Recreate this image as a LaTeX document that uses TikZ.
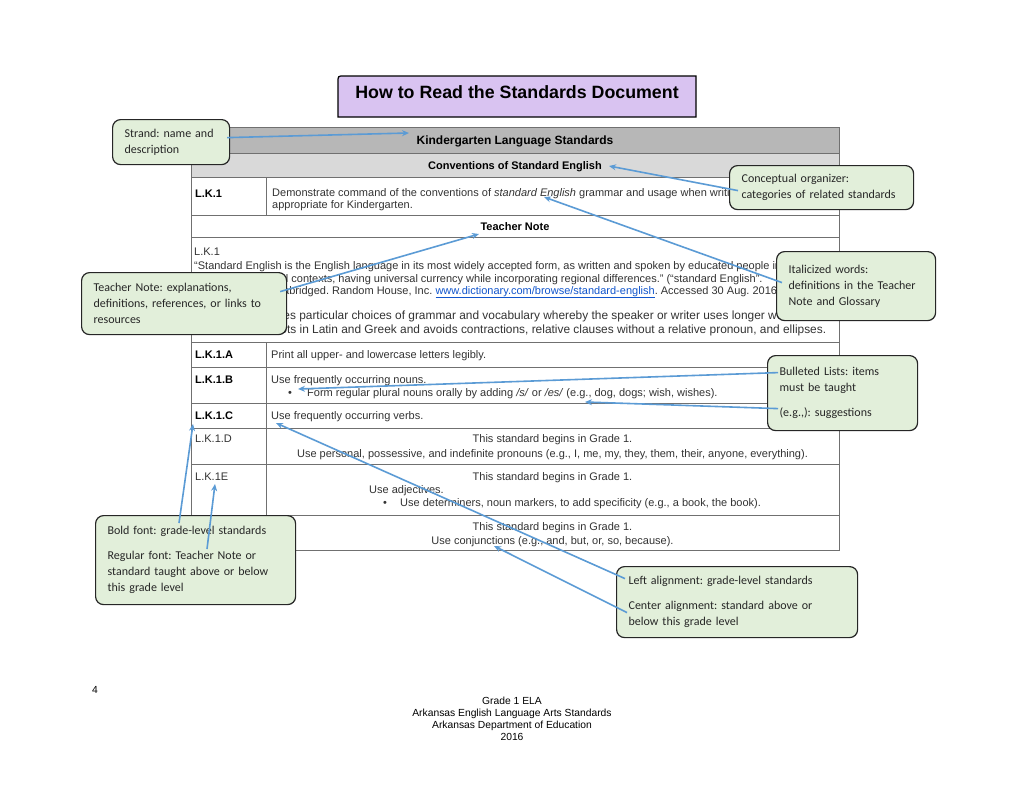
\documentclass[tikz,border=0pt]{standalone}
\usepackage{fontspec}
\setmainfont{Liberation Sans}
\newfontfamily\calloutfont{Carlito}
\usetikzlibrary{arrows.meta,calc}
\frenchspacing

\definecolor{titlelilac}{HTML}{D9C3F1}
\definecolor{notegreen}{HTML}{E2EFDA}
\definecolor{arrowblue}{HTML}{5B9BD5}
\definecolor{stranddark}{HTML}{B7B7B7}
\definecolor{strandlight}{HTML}{D9D9D9}
\definecolor{gridgray}{HTML}{707070}
\definecolor{linkblue}{HTML}{1155CC}
\definecolor{inkgray}{HTML}{333333}

\newcommand\tabfont{\fontsize{11}{13}\selectfont}

\tikzset{
  cell/.style={anchor=base west,inner sep=0pt,font=\tabfont,text=inkgray},
  cellmid/.style={cell,anchor=base},
  lbl/.style={cell,font=\tabfont\bfseries,text=black},
  grid/.style={gridgray,line width=0.9pt},
  callout/.style={draw=black!85,line width=1.2pt,fill=notegreen,rounded corners=8pt,
    anchor=north west,align=left,inner xsep=12pt,inner ysep=0pt,
    font=\calloutfont\fontsize{12}{16}\selectfont\frenchspacing,text=black!85},
  pointer/.style={arrowblue,line width=1.6pt,-{Stealth[length=7pt,width=6pt]}}
}

\begin{document}
\begin{tikzpicture}[x=1pt,y=-1pt]

  \useasboundingbox (0,0) rectangle (1024,790);
  \fill[white] (0,0) rectangle (1024,790);

  % titel
  \filldraw[fill=titlelilac,draw=black,line width=1.2pt]
    (338,117) -- (338,82) .. controls (338,76) .. (344,76)
    -- (696,76) -- (696,117) -- cycle;
  \node[font=\fontsize{17.8}{20}\selectfont\bfseries,inner sep=0pt] (title)
    at (517,92.5) {How to Read the Standards Document};

  % tabel
  \fill[stranddark] (191,127) rectangle (839,153);
  \fill[strandlight] (191,153) rectangle (839,177);
  \foreach \y in {153,177,215,237,342,367,403,428,464,515}
    \draw[grid] (191,\y) -- (839,\y);
  \draw[grid] (266,177) -- (266,215);
  \draw[grid] (266,342) -- (266,550);
  \draw[grid] (191,127) rectangle (839,550);

  % koppen
  \node[cellmid,font=\fontsize{12}{14}\selectfont\bfseries,text=black] (strandrow)
    at (515,144.5) {Kindergarten Language Standards};
  \node[cellmid,font=\tabfont\bfseries,text=black] (organizerrow)
    at (515,169) {Conventions of Standard English};
  \node[cellmid,font=\tabfont\bfseries,text=black] (noterow)
    at (515,230) {Teacher Note};

  % L.K.1
  \node[lbl] (lk1) at (195,197) {L.K.1};
  \node[cell] (lk1a) at (272,196) {Demonstrate command of the conventions of
    \textit{standard English} grammar and usage when writing or speaking.};
  \node[cell] (lk1b) at (272,208) {appropriate for Kindergarten.};

  % teacher note
  \node[cell] (note0) at (194,255) {L.K.1};
  \node[cell] (note1) at (194,269) {“Standard English is the English language in its
    most widely accepted form, as written and spoken by educated people in both};
  \node[cell] (note2) at (194,282) {formal and informal contexts, having universal
    currency while incorporating regional differences.” (“standard English”.};
  \node[cell] (note3) at (194,294) {Dictionary.com Unabridged. Random House, Inc.
    {\color{linkblue}\underline{www.dictionary.com/browse/standard-english}}.
    Accessed 30 Aug. 2016.)};
  \node[cell,font=\fontsize{11.9}{14}\selectfont] (note4) at (188,319) {Formal
    English uses particular choices of grammar and vocabulary whereby the speaker
    or writer uses longer words};
  \node[cell,font=\fontsize{11.9}{14}\selectfont] (note5) at (187,333) {and words
    with roots in Latin and Greek and avoids contractions, relative clauses without
    a relative pronoun, and ellipses.};

  % standaarden
  \node[lbl] (stdA) at (195,358) {L.K.1.A};
  \node[cell] (txtA) at (271,358) {Print all upper- and lowercase letters legibly.};
  \node[lbl] (stdB) at (195,383) {L.K.1.B};
  \node[cell] (txtB) at (271,383) {Use frequently occurring nouns.};
  \node[cell] (dotB) at (288,396) {\textbullet};
  \node[cell] (subB) at (307,396) {Form regular plural nouns orally by adding
    \textit{/s/} or \textit{/es/} (e.g., dog, dogs; wish, wishes).};
  \node[lbl] (stdC) at (195,419) {L.K.1.C};
  \node[cell] (txtC) at (271,419) {Use frequently occurring verbs.};
  \node[cell] (stdD) at (195,442) {L.K.1.D};
  \node[cellmid] (begD) at (552.5,442) {This standard begins in Grade 1.};
  \node[cellmid] (txtD) at (552.5,457) {Use personal, possessive, and indefinite
    pronouns (e.g., I, me, my, they, them, their, anyone, everything).};
  \node[cell] (stdE) at (195,480) {L.K.1E};
  \node[cellmid] (begE) at (552.5,480) {This standard begins in Grade 1.};
  \node[cell] (txtE) at (369,493) {Use adjectives.};
  \node[cell] (dotE) at (383,506) {\textbullet};
  \node[cell] (subE) at (400,506) {Use determiners, noun markers, to add
    specificity (e.g., a book, the book).};
  \node[cellmid] (begF) at (552.5,530) {This standard begins in Grade 1.};
  \node[cellmid] (txtF) at (552.5,544) {Use conjunctions (e.g., and, but, or, so,
    because).};

  % toelichtingen
  \node[callout,minimum width=117pt,minimum height=45pt,text width=93pt] (strand)
    at (112,119) {Strand: name and\\description};
  \node[callout,minimum width=184pt,minimum height=44pt,text width=160pt] (organizer)
    at (729,165) {Conceptual organizer:\\categories of related standards};
  \node[callout,minimum width=159pt,minimum height=69pt,text width=135pt] (italic)
    at (776,251) {Italicized words:\\definitions in the Teacher\\Note and Glossary};
  \node[callout,minimum width=205pt,minimum height=62pt,text width=181pt] (notebox)
    at (81,272) {Teacher Note: explanations,\\definitions, references, or links to\\resources};
  \node[callout,minimum width=150pt,minimum height=75pt,text width=126pt] (bullets)
    at (767,355) {Bulleted Lists: items\\must be taught\\[9pt](e.g.,): suggestions};
  \node[callout,minimum width=200pt,minimum height=89pt,text width=176pt] (fonts)
    at (95,515) {Bold font: grade-level standards\\[9pt]Regular font: Teacher Note or\\standard taught above or below\\this grade level};
  \node[callout,minimum width=241pt,minimum height=71pt,text width=217pt] (align)
    at (616,566) {Left alignment: grade-level standards\\[9pt]Center alignment: standard above or\\below this grade level};

  % pijlpunten
  \coordinate (strandTip) at (409,133);
  \coordinate (organizerTip) at (609,166);
  \coordinate (italicTip) at (544,197);
  \coordinate (noteTip) at (479,234);
  \coordinate (bulletTip) at (298,389);
  \coordinate (exampleTip) at (585,402);
  \coordinate (boldTip) at (193,424);
  \coordinate (regularTip) at (215,484);
  \coordinate (leftTip) at (276,423);
  \coordinate (centerTip) at (494,546);

  % pijlen
  \draw[pointer] ($(strand.east)+(-3,-4.5)$) -- (strandTip);
  \draw[pointer] ($(organizer.west)+(9,3)$) -- (organizerTip);
  \draw[pointer] ($(italic.west)+(6,-3.5)$) -- (italicTip);
  \draw[pointer] ($(notebox.east)+(-7,-12)$) -- (noteTip);
  \draw[pointer] ($(bullets.west)+(11,-20.5)$) -- (bulletTip);
  \draw[pointer] ($(bullets.west)+(11,15.5)$) -- (exampleTip);
  \draw[pointer] ($(fonts.north west)+(84,8)$) -- (boldTip);
  \draw[pointer] ($(fonts.north west)+(112,34)$) -- (regularTip);
  \draw[pointer] ($(align.west)+(9,-23.5)$) -- (leftTip);
  \draw[pointer] ($(align.west)+(11,10.5)$) -- (centerTip);

  % voettekst
  \node[cell,font=\fontsize{10.3}{12}\selectfont,text=black] (pageno) at (92,693) {4};
  \node[font=\fontsize{10.3}{12}\selectfont,align=center,inner sep=0pt,anchor=north]
    (footer) at (512,697) {Grade 1 ELA\\Arkansas English Language Arts Standards\\
    Arkansas Department of Education\\2016};

\end{tikzpicture}
\end{document}
